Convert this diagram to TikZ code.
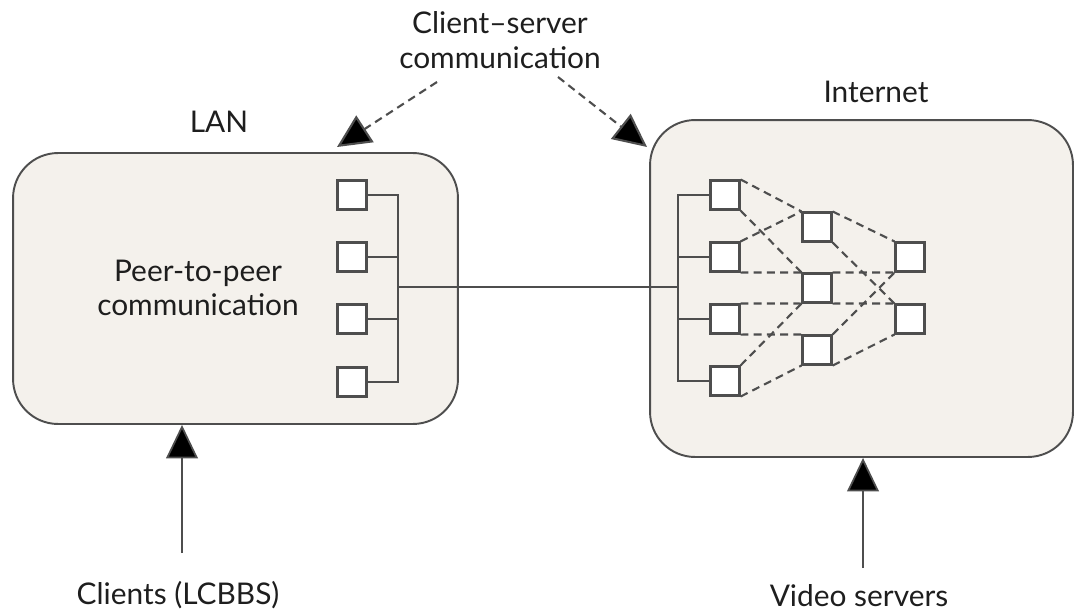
\documentclass[tikz,border=0pt]{standalone}
\usepackage{fontspec}
\setmainfont{Lato}
\usetikzlibrary{arrows.meta}
\definecolor{boxfill}{HTML}{F4F1EC}
\definecolor{linecol}{HTML}{4E4E4E}
\definecolor{txtcol}{HTML}{1E1E1E}
\tikzset{
  region/.style={draw=linecol, line width=1.1pt, fill=boxfill, rounded corners=0.9cm, inner sep=0pt},
  host/.style={draw=linecol, line width=1.2pt, fill=white, minimum size=0.58cm, inner sep=0pt},
  wire/.style={draw=linecol, line width=0.9pt},
  dwire/.style={draw=linecol, line width=1.2pt, dash pattern=on 4.5pt off 3pt},
  label/.style={text=txtcol, font=\fontsize{17}{19.5}\selectfont, align=center, inner sep=0pt},
  bigarrow/.style={draw=linecol, line width=1pt, -{Triangle[length=19pt,width=18pt,fill=black]}},
  dasharrow/.style={draw=linecol, line width=1.2pt, dash pattern=on 4.5pt off 3pt, -{Triangle[length=19pt,width=18pt,fill=black]}}
}
\begin{document}
\begin{tikzpicture}[x=0.02cm, y=-0.02cm]
\useasboundingbox (0,0) rectangle (1077,612);
% regions
\node[region, minimum width=8.9cm, minimum height=5.42cm] (lan) at (235.5,288.5) {};
\node[region, minimum width=8.46cm, minimum height=6.74cm] (inet) at (861.5,288.5) {};
% labels
\node[label] (cs) at (500,40) {Client–server\\communication};
\node[label] (lanlbl) at (219,122) {LAN};
\node[label] (inetlbl) at (876,92) {Internet};
\node[label] (p2p) at (198,288) {Peer-to-peer\\communication};
\node[label] (clients) at (178,595) {Clients (LCBBS)};
\node[label] (video) at (859,596) {Video servers};
% LAN hosts
\node[host] (l1) at (352,195) {};
\node[host] (l2) at (352,257) {};
\node[host] (l3) at (352,319) {};
\node[host] (l4) at (352,382) {};
\coordinate (lbus) at (398,287);
\draw[wire] (l1.east) -| (lbus) |- (l4.east);
\draw[wire] (l2.east) -| (lbus);
\draw[wire] (l3.east) -| (lbus);
% Internet hosts
\node[host] (i1) at (725,195) {};
\node[host] (i2) at (725,257) {};
\node[host] (i3) at (725,319) {};
\node[host] (i4) at (725,381) {};
\node[host] (m1) at (817,227) {};
\node[host] (m2) at (817,288) {};
\node[host] (m3) at (817,350) {};
\node[host] (r1) at (910,257) {};
\node[host] (r2) at (910,319) {};
\coordinate (ibus) at (678,287);
\draw[wire] (i1.west) -| (ibus) |- (i4.west);
\draw[wire] (i2.west) -| (ibus);
\draw[wire] (i3.west) -| (ibus);
\draw[wire] (lbus) -- (ibus);
% dashed mesh
\draw[dwire] (i1.north east) -- (m1.north west);
\draw[dwire] (i1.south east) -- (m2.north west);
\draw[dwire] (i2.north east) -- (m1.north west);
\draw[dwire] (i2.south east) -- (m2.north west);
\draw[dwire] (i3.north east) -- (m2.south west);
\draw[dwire] (i3.south east) -- (m3.north west);
\draw[dwire] (i4.north east) -- (m2.south west);
\draw[dwire] (i4.south east) -- (m3.south west);
\draw[dwire] (m1.north east) -- (r1.north west);
\draw[dwire] (m1.south east) -- (r2.north west);
\draw[dwire] (m2.north east) -- (r1.south west);
\draw[dwire] (m2.south east) -- (r2.north west);
\draw[dwire] (m3.north east) -- (r1.south west);
\draw[dwire] (m3.south east) -- (r2.south west);
% arrows
\coordinate (csl) at (437,82);
\coordinate (csr) at (558,77);
\coordinate (lantip) at (337,147);
\coordinate (inettip) at (647,147);
\draw[dasharrow] (csl) -- (lantip);
\draw[dasharrow] (csr) -- (inettip);
\coordinate (ca) at (182,553);
\coordinate (va) at (863,568);
\draw[bigarrow] (ca) -- (ca |- lan.south);
\draw[bigarrow] (va) -- (va |- inet.south);
\end{tikzpicture}
\end{document}
